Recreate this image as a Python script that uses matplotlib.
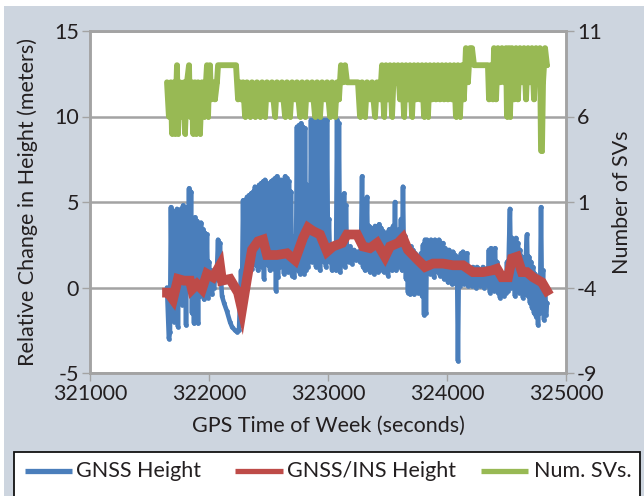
import matplotlib
matplotlib.use('Agg')
import matplotlib.pyplot as plt
from matplotlib.lines import Line2D
from matplotlib.patches import Rectangle

plt.rcParams['font.family'] = ['Lato', 'DejaVu Sans']

# ---------------- data ----------------
gnss_t = [321647, 321655, 321663, 321672, 321680, 321689, 321697, 321706, 321714, 321723,
          321731, 321739, 321748, 321756, 321765, 321773, 321782, 321790, 321798, 321807,
          321815, 321824, 321832, 321840, 321849, 321857, 321866, 321874, 321882, 321891,
          321899, 321908, 321916, 321924, 321933, 321941, 321950, 321958, 321966, 321975,
          321983, 321992, 322000, 322008, 322017, 322025, 322034, 322042, 322050, 322067,
          322076, 322084, 322092, 322100, 322109, 322126, 322151, 322176, 322193, 322218,
          322235, 322252, 322260, 322269, 322277, 322286, 322294, 322303, 322311, 322319,
          322328, 322336, 322345, 322353, 322361, 322370, 322378, 322386, 322395, 322403,
          322412, 322420, 322429, 322437, 322446, 322454, 322462, 322471, 322479, 322487,
          322496, 322504, 322513, 322521, 322529, 322538, 322546, 322555, 322563, 322571,
          322580, 322588, 322597, 322605, 322614, 322622, 322630, 322639, 322647, 322655,
          322664, 322672, 322681, 322689, 322698, 322706, 322715, 322723, 322731, 322739,
          322748, 322756, 322765, 322773, 322782, 322790, 322799, 322807, 322815, 322824,
          322832, 322840, 322849, 322857, 322866, 322874, 322883, 322891, 322899, 322908,
          322916, 322924, 322933, 322941, 322950, 322958, 322966, 322975, 322983, 322992,
          323000, 323008, 323017, 323025, 323034, 323042, 323050, 323059, 323067, 323076,
          323084, 323092, 323101, 323109, 323118, 323126, 323135, 323143, 323151, 323160,
          323168, 323177, 323185, 323202, 323219, 323235, 323252, 323269, 323277, 323286,
          323294, 323303, 323311, 323320, 323328, 323336, 323345, 323353, 323361, 323370,
          323378, 323387, 323395, 323403, 323412, 323420, 323429, 323437, 323445, 323454,
          323462, 323470, 323479, 323487, 323496, 323504, 323513, 323521, 323529, 323538,
          323546, 323555, 323563, 323571, 323580, 323588, 323597, 323605, 323613, 323622,
          323630, 323638, 323647, 323655, 323664, 323672, 323680, 323689, 323697, 323706,
          323714, 323723, 323731, 323739, 323748, 323756, 323765, 323773, 323781, 323790,
          323798, 323807, 323815, 323823, 323832, 323840, 323849, 323857, 323866, 323874,
          323882, 323891, 323899, 323907, 323916, 323924, 323933, 323941, 323949, 323958,
          323966, 323975, 323983, 323992, 324000, 324008, 324017, 324025, 324033, 324042,
          324050, 324059, 324067, 324075, 324084, 324092, 324100, 324109, 324117, 324126,
          324134, 324142, 324151, 324159, 324168, 324176, 324184, 324193, 324201, 324210,
          324218, 324226, 324235, 324243, 324252, 324260, 324268, 324277, 324285, 324294,
          324302, 324310, 324319, 324327, 324336, 324344, 324352, 324361, 324369, 324378,
          324386, 324395, 324403, 324412, 324420, 324428, 324437, 324445, 324453, 324462,
          324470, 324479, 324487, 324496, 324504, 324513, 324521, 324529, 324538, 324546,
          324554, 324563, 324571, 324580, 324588, 324596, 324605, 324613, 324621, 324630,
          324638, 324647, 324655, 324664, 324672, 324681, 324689, 324697, 324706, 324714,
          324723, 324731, 324739, 324748, 324756, 324765, 324773, 324781, 324790, 324798,
          324807, 324815, 324824, 324832, 324840]
gnss_h = [0.0, -1.5, -3.0, -2.6, 4.7, -1.0, 4.5, -2.0, 4.4, -0.5,
          4.6, -2.3, 4.5, 0.0, 4.6, -1.0, 4.8, -0.5, 4.7, -2.2,
          4.6, 0.5, 5.8, -0.2, 5.6, -1.5, 4.0, -2.1, 4.1, -0.3,
          3.9, -2.1, 3.6, -0.5, 3.8, 0.0, 3.4, -0.7, 3.2, 0.2,
          3.1, -0.6, 1.5, 0.0, 1.0, -0.4, 0.8, 0.0, 0.5, 1.0,
          2.8, 0.4, 2.6, 0.6, -0.5, -0.9, -1.4, -2.0, -2.3, -2.5,
          -2.6, -2.5, -1.0, 1.0, -0.5, 5.1, 0.8, 5.0, 1.2, 5.3,
          1.0, 5.4, 1.5, 5.5, 1.1, 5.6, 1.4, 5.9, 1.3, 5.8,
          1.0, 6.0, 1.6, 6.1, 1.2, 6.2, 0.5, 6.3, 1.5, 6.1,
          1.3, 5.5, 1.0, 6.2, 1.4, 6.3, 1.1, 6.4, -0.2, 6.5,
          0.6, 6.3, 1.2, 6.3, 1.5, 6.0, 0.8, 6.5, 1.2, 6.4,
          0.9, 6.2, 1.0, 5.6, 0.7, 3.0, 0.6, 2.5, 1.3, 9.4,
          1.0, 9.5, 0.8, 9.6, 1.2, 9.4, 0.8, 9.3, 1.0, 6.0,
          1.2, 2.8, 1.8, 9.8, 1.5, 9.8, 1.8, 9.8, 1.2, 9.8,
          1.5, 9.8, 1.0, 9.8, 1.6, 9.8, 1.5, 9.8, 1.2, 9.8,
          2.0, 4.0, 1.5, 2.0, 1.0, 2.2, 1.3, 2.3, 1.0, 9.8,
          1.6, 9.6, 0.9, 2.0, 5.4, 1.5, 5.5, 1.2, 4.8, 1.6,
          2.2, 1.5, 2.4, 1.4, 2.2, 1.6, 2.1, 1.5, 2.0, 6.5,
          1.2, 2.4, 1.0, 2.5, 5.3, 1.1, 3.6, 0.9, 3.5, 1.3,
          3.4, 0.8, 3.6, 1.2, 3.3, 0.9, 3.7, 1.0, 3.5, 1.4,
          3.3, 0.9, 3.0, 1.3, 3.2, 0.7, 3.4, 1.2, 3.0, 1.0,
          3.6, 1.5, 5.0, 1.0, 3.2, 1.2, 3.4, 1.4, 4.0, 1.0,
          5.9, 1.5, 3.0, 0.5, 2.5, -0.3, 2.3, -0.4, 2.4, 0.0,
          2.2, -0.4, 2.0, 0.2, 1.8, -0.3, 1.5, 0.5, 2.0, -0.5,
          2.5, -1.6, 2.8, -1.5, 2.8, 1.0, 2.7, 0.8, 2.8, 1.2,
          2.7, 0.6, 2.8, 1.0, 2.6, 0.9, 2.8, 0.7, 2.5, 1.1,
          2.6, 0.5, 2.3, 1.2, 2.1, 0.3, 2.2, 0.6, 2.0, 0.2,
          2.1, 0.5, 1.9, 0.2, 1.8, -4.3, 1.5, 0.1, 2.0, 0.3,
          2.1, 0.2, 1.8, 0.4, 2.0, 0.1, 1.2, 0.3, 1.1, 0.1,
          1.2, 0.3, 1.0, 0.0, 1.2, 0.2, 1.1, 0.1, 1.0, 0.2,
          1.2, 0.0, 1.0, 0.3, 1.1, 0.1, 2.2, -0.3, 2.3, 0.0,
          2.2, -0.2, 2.3, 0.2, 1.5, -0.3, 1.0, -0.6, 0.8, -0.2,
          0.6, -0.5, 0.8, -0.3, 1.5, -0.2, 2.5, 4.6, 0.0, 2.9,
          0.2, 2.7, -0.5, 2.9, 0.4, 2.6, -0.3, 2.2, 0.0, 1.8,
          -0.6, 1.5, -0.4, 2.0, 3.1, -0.5, 1.8, -0.9, 1.5, -1.2,
          1.2, -1.5, 0.8, -1.7, 0.5, -2.2, 0.3, -1.5, 4.7, -1.0,
          1.0, -1.9, 0.2, -1.6, -0.9]

ins_t = [321647, 321655, 321697, 321739, 321790, 321840, 321857, 321899, 321941, 321983,
         322034, 322092, 322109, 322176, 322244, 322277, 322319, 322361, 322412, 322454,
         322487, 322571, 322655, 322723, 322790, 322832, 322874, 322933, 322992, 323042,
         323118, 323160, 323244, 323294, 323353, 323412, 323479, 323521, 323588, 323630,
         323672, 323756, 323815, 323882, 323966, 324050, 324134, 324218, 324302, 324378,
         324420, 324462, 324513, 324546, 324588, 324630, 324672, 324723, 324798, 324840]
ins_h = [-0.3, -0.3, -0.7, 0.5, 0.4, 0.4, -0.1, 0.2, -0.1, 0.8,
         0.6, 1.3, 0.4, 0.5, -0.3, -1.3, 0.5, 2.2, 2.7, 2.8,
         1.9, 1.9, 2.0, 1.6, 2.9, 3.5, 3.3, 3.1, 2.1, 2.4,
         2.6, 3.1, 3.1, 2.4, 2.3, 2.6, 1.8, 2.4, 2.6, 2.9,
         2.2, 1.6, 1.2, 1.4, 1.4, 1.3, 1.3, 0.9, 0.9, 1.0,
         1.1, 0.6, 0.6, 1.7, 1.8, 0.9, 0.9, 0.6, 0.3, -0.2]

sv_t = [321647, 321663, 321680, 321689, 321706, 321714, 321731, 321739, 321756, 321773,
        321790, 321798, 321815, 321832, 321840, 321857, 321866, 321882, 321891, 321908,
        321924, 321941, 321958, 321975, 321983, 321992, 322000, 322008, 322017, 322034,
        322050, 322067, 322076, 322227, 322244, 322260, 322269, 322286, 322303, 322319,
        322345, 322361, 322386, 322403, 322429, 322446, 322471, 322487, 322513, 322529,
        322555, 322571, 322597, 322613, 322639, 322655, 322681, 322698, 322723, 322739,
        322765, 322782, 322807, 322824, 322849, 322866, 322891, 322908, 322933, 322950,
        322975, 322992, 323017, 323034, 323059, 323076, 323092, 323109, 323126, 323143,
        323160, 323252, 323269, 323286, 323311, 323328, 323353, 323370, 323395, 323412,
        323437, 323454, 323471, 323487, 323504, 323521, 323538, 323555, 323571, 323588,
        323605, 323622, 323639, 323655, 323672, 323689, 323706, 323723, 323739, 323756,
        323773, 323790, 323807, 323823, 323840, 323857, 323874, 323891, 323907, 323924,
        323941, 323958, 323975, 323991, 324008, 324025, 324042, 324059, 324075, 324092,
        324109, 324126, 324142, 324159, 324176, 324193, 324210, 324227, 324344, 324353,
        324369, 324386, 324395, 324412, 324428, 324445, 324462, 324479, 324496, 324504,
        324521, 324529, 324546, 324563, 324580, 324596, 324613, 324630, 324647, 324664,
        324681, 324697, 324714, 324731, 324748, 324765, 324781, 324790, 324798, 324807,
        324824, 324840]
sv_n = [8, 6, 8, 5, 8, 5, 9, 5, 8, 6,
        8, 5, 8, 9, 6, 8, 5, 8, 5, 8,
        5, 8, 6, 8, 9, 6, 8, 9, 7, 8,
        7, 8, 9, 9, 7, 8, 7, 8, 6, 8,
        6, 8, 6, 8, 6, 8, 6, 8, 7, 8,
        6, 8, 7, 8, 6, 8, 6, 8, 7, 8,
        6, 8, 6, 8, 7, 8, 6, 8, 6, 8,
        7, 8, 6, 8, 6, 8, 7, 9, 8, 9,
        8, 8, 6, 8, 6, 8, 7, 8, 6, 8,
        7, 9, 6, 9, 7, 9, 6, 9, 8, 9,
        7, 9, 6, 9, 7, 9, 6, 9, 7, 9,
        7, 9, 6, 9, 6, 9, 7, 9, 7, 9,
        7, 9, 7, 9, 7, 9, 7, 9, 6, 9,
        6, 9, 7, 10, 8, 10, 10, 9, 9, 7,
        9, 7, 10, 7, 10, 8, 10, 8, 10, 6,
        10, 6, 10, 7, 10, 7, 10, 8, 10, 7,
        10, 8, 10, 7, 10, 8, 10, 4, 4, 8,
        10, 9]

x_ticks = [321000, 322000, 323000, 324000, 325000]
left_ticks = [-5, 0, 5, 10, 15]
right_ticks = [-9, -4, 1, 6, 11]
labels = ['GNSS Height', 'GNSS/INS Height', 'Num. SVs.']

# ---------------- style ----------------
BLUE = '#4a7ebb'
RED = '#be4b48'
GREEN = '#98b954'
BG = '#cdd5df'
AX = '#a3a3a3'
TXT = '#231f20'
FS = 15.5
W, H = 644, 496

fig = plt.figure(figsize=(W / 100, H / 100), dpi=100)
fig.patch.set_facecolor('white')
fig.patches.append(Rectangle((4 / W, 0), 1, (H - 6) / H, transform=fig.transFigure,
                             facecolor=BG, edgecolor='none', zorder=-10))
fig.patches.append(Rectangle((14 / W, -0.05), (640 - 14) / W, 0.05 + (H - 452) / H,
                             transform=fig.transFigure, facecolor='white',
                             edgecolor='#111111', linewidth=1.3, zorder=-5))

ax = fig.add_axes([90 / W, (H - 373) / H, (566 - 90) / W, (373 - 31) / H])
ax.set_facecolor('white')
ax2 = ax.twinx()

ax.plot(gnss_t, gnss_h, color=BLUE, lw=3.3, marker='o', ms=3.4, mew=0,
        solid_joinstyle='round', solid_capstyle='round', zorder=3)
ax.plot(ins_t, ins_h, color=RED, lw=7.0, solid_joinstyle='miter', zorder=4)
ax2.plot(sv_t, sv_n, color=GREEN, lw=4.2, marker='o', ms=3.5, mew=0,
         solid_joinstyle='round', solid_capstyle='round', zorder=3)

ax.set_xlim(x_ticks[0], x_ticks[-1])
ax.set_ylim(left_ticks[0], left_ticks[-1])
ax2.set_ylim(right_ticks[0], right_ticks[-1])
ax.set_xticks(x_ticks)
ax.set_yticks(left_ticks)
ax2.set_yticks(right_ticks)
ax.set_xticklabels([str(v) for v in x_ticks])
ax.set_yticklabels([str(v) for v in left_ticks])
ax2.set_yticklabels([str(v) for v in right_ticks])

ax.grid(axis='y', color=AX, lw=1.8, zorder=1)
ax.set_axisbelow(True)
for a in (ax, ax2):
    for s in a.spines.values():
        s.set_color(AX)
        s.set_linewidth(1.8)
    a.tick_params(colors=AX, labelcolor=TXT, labelsize=FS, length=6, width=1.0,
                  direction='out', pad=2)

ax.set_xlabel('GPS Time of Week (seconds)', fontsize=FS, color=TXT, va='center')
ax.xaxis.set_label_coords(0.5, -(426 - 373) / 342)
ax.set_ylabel('Relative Change in Height (meters)', fontsize=FS, color=TXT, va='center')
ax.yaxis.set_label_coords((28 - 90) / 476, 0.5)
ax2.set_ylabel('Number of SVs', fontsize=FS, color=TXT, va='center', rotation=90)
ax2.yaxis.set_label_coords((622 - 90) / 476, 0.5)

# legend (drawn inside the white box at the bottom)
leg_y = 1 - 471 / H
leg_lines = [(25, 72), (235, 283), (481, 528)]
leg_text_x = [76, 287, 534]
for (x0, x1), tx, c, lab in zip(leg_lines, leg_text_x, (BLUE, RED, GREEN), labels):
    fig.add_artist(Line2D([x0 / W, x1 / W], [leg_y, leg_y], transform=fig.transFigure,
                          color=c, lw=3.8, solid_capstyle='butt'))
    fig.text(tx / W, leg_y, lab, fontsize=FS, color=TXT, ha='left', va='center')

fig.savefig('out.png', dpi=100)
